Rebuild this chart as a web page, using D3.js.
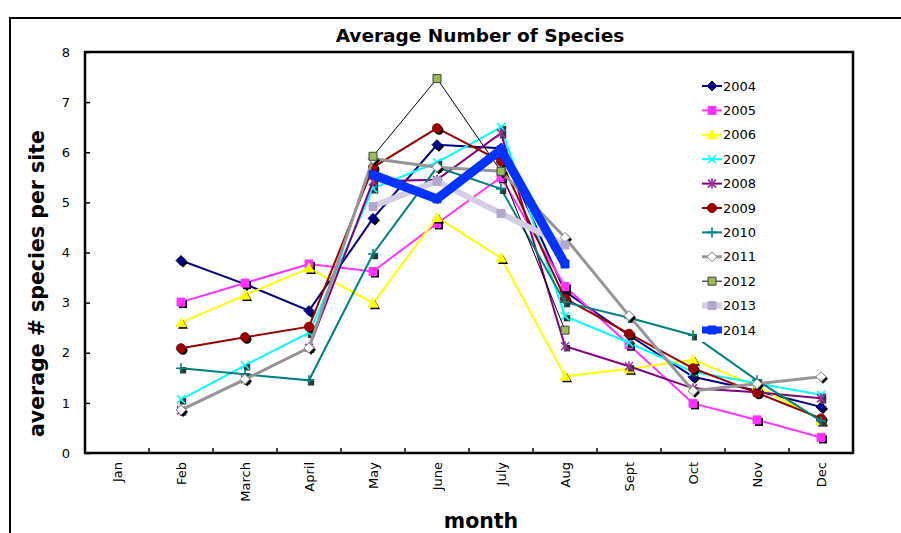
<!DOCTYPE html>
<html>
<head>
<meta charset="utf-8">
<script src="https://cdn.jsdelivr.net/npm/d3@7"></script>
<style>
  body { margin: 0; background: #fff; }
  svg { display: block; font-family: "DejaVu Sans", Verdana, sans-serif; }
</style>
</head>
<body>
<svg id="chart" width="901" height="533"></svg>
<script>
// Data (null = no sample that month)
const months = ["Jan", "Feb", "March", "April", "May", "June", "July", "Aug", "Sept", "Oct", "Nov", "Dec"];
const years = ["2004", "2005", "2006", "2007", "2008", "2009", "2010", "2011", "2012", "2013", "2014"];
const yTicks = [0, 1, 2, 3, 4, 5, 6, 7, 8];

const v2004 = [null, 3.84, 3.37, 2.84, 4.68, 6.15, 6.08, 3.22, 2.35, 1.52, 1.24, 0.92];
const v2005 = [null, 3.01, 3.39, 3.77, 3.62, 4.58, 5.50, 3.32, 2.16, 0.99, 0.66, 0.31];
const v2006 = [null, 2.60, 3.15, 3.69, 2.99, 4.70, 3.89, 1.53, 1.68, 1.86, 1.33, 0.65];
const v2007 = [null, 1.07, 1.75, 2.40, 5.28, 5.80, 6.50, 2.73, 2.20, 1.62, 1.39, 1.16];
const v2008 = [null, 0.85, 1.47, 2.10, 5.42, 5.45, 6.38, 2.13, 1.73, 1.29, 1.21, 1.09];
const v2009 = [null, 2.09, 2.31, 2.52, 5.70, 6.48, 5.82, 3.08, 2.38, 1.69, 1.20, 0.69];
const v2010 = [null, 1.69, 1.57, 1.45, 3.97, 5.70, 5.27, 3.01, 2.70, 2.35, 1.45, 0.64];
const v2011 = [null, 0.86, 1.47, 2.10, 5.87, 5.70, 5.62, 4.30, 2.74, 1.24, 1.38, 1.52];
const v2012 = [null, null, null, null, 5.92, 7.47, 5.62, 2.45, null, null, null, null];
const v2013 = [null, null, null, null, 4.92, 5.42, 4.78, 4.15, null, null, null, null];
const v2014 = [null, null, null, null, 5.55, 5.07, 6.05, 3.77, null, null, null, null];
const seriesValues = [v2004, v2005, v2006, v2007, v2008, v2009, v2010, v2011, v2012, v2013, v2014];

// Series styles
const lineColors = ["#000080", "#ff33ff", "#ffff00", "#00ffff", "#800080", "#990000", "#008080", "#969696", "#000000", "#d4cde3", "#0033ff"];
const markerFills = ["#000080", "#ff33ff", "#ffff00", "#00ffff", "#993399", "#990000", "#008080", "#ffffff", "#9bbb59", "#b3a8cc", "#0033ff"];
const markerStrokes = ["#000080", "#ff33ff", "#ffff00", "#00ffff", "#993399", "#990000", "#008080", "#808080", "#404040", "#b3a8cc", "#0033ff"];
const lineWidths = [2, 2, 2, 2, 2, 2, 2, 3, 1, 6, 9];
const shapes = ["diamond", "square", "triangle", "x", "star", "circle", "plus", "diamond", "square", "square", "square"];
const shadowed = [true, true, true, true, true, true, true, true, false, false, false];

const svg = d3.select("#chart");
const margin = { top: 52, right: 48, bottom: 80, left: 85 };
const W = 901, H = 533;

// Outer chart frame
svg.append("rect")
    .attr("x", 10).attr("y", 18)
    .attr("width", 920).attr("height", 540)
    .attr("fill", "#fff").attr("stroke", "#000").attr("stroke-width", 2);

const x = d3.scaleBand()
    .domain(months)
    .range([margin.left, W - margin.right]);

const y = d3.scaleLinear()
    .domain([0, 8])
    .range([H - margin.bottom, margin.top]);

// Y axis (inward ticks)
const yAxisG = svg.append("g")
    .attr("transform", `translate(${margin.left},0)`)
    .call(d3.axisLeft(y).tickValues(yTicks).tickSize(-5).tickPadding(15));
yAxisG.select(".domain").remove();
yAxisG.selectAll("line").attr("stroke", "#000").attr("stroke-width", 1.5);
yAxisG.selectAll("text").attr("font-size", "13px").attr("fill", "#000")
    .attr("font-family", "'DejaVu Sans', Verdana, sans-serif");

// X tick marks between categories, pointing inward
svg.append("g")
    .selectAll("line")
    .data(months.slice(1))
    .join("line")
    .attr("x1", d => x(d)).attr("x2", d => x(d))
    .attr("y1", y(0)).attr("y2", y(0) - 5)
    .attr("stroke", "#000").attr("stroke-width", 1.5);

// X labels, rotated
svg.append("g")
    .selectAll("text")
    .data(months)
    .join("text")
    .attr("transform", d => `translate(${x(d) + x.bandwidth() / 2},${y(0) + 9})rotate(-90)`)
    .attr("text-anchor", "end")
    .attr("dy", "0.35em")
    .attr("font-size", "13px")
    .text(d => d);

// Series lines and markers
function markerPath(shape) {
    switch (shape) {
        case "diamond": return "M0,-5L5,0L0,5L-5,0Z";
        case "square": return "M-4,-4H4V4H-4Z";
        case "triangle": return "M0,-5L5,4H-5Z";
        case "circle": return d3.symbol(d3.symbolCircle, 64)();
        case "x": return "M-4,-4L4,4M-4,4L4,-4";
        case "star": return "M-4,-4L4,4M-4,4L4,-4M0,-5V5";
        case "plus": return "M-5,0H5M0,-5V5";
    }
}
const lineShape = d3.line()
    .defined(d => d.v !== null)
    .x(d => x(d.m) + x.bandwidth() / 2)
    .y(d => y(d.v));

const plotG = svg.append("g");
seriesValues.forEach((vals, i) => {
    const pts = vals.map((v, j) => ({ m: months[j], v }));
    const g = plotG.append("g");
    g.append("path")
        .datum(pts)
        .attr("fill", "none")
        .attr("stroke", lineColors[i])
        .attr("stroke-width", lineWidths[i])
        .attr("stroke-linejoin", "miter")
        .attr("d", lineShape);

    const valid = pts.filter(d => d.v !== null);
    const open = shapes[i] === "x" || shapes[i] === "star" || shapes[i] === "plus";
    if (shadowed[i]) {
        g.selectAll(".shadow")
            .data(valid)
            .join("path")
            .attr("class", "shadow")
            .attr("d", open ? markerPath("square") : markerPath(shapes[i]))
            .attr("transform", d => `translate(${x(d.m) + x.bandwidth() / 2 + 2},${y(d.v) + 2})` + (open ? "scale(0.8)" : ""))
            .attr("fill", open ? "#333" : "#000");
    }
    g.selectAll(".marker")
        .data(valid)
        .join("path")
        .attr("class", "marker")
        .attr("transform", d => `translate(${x(d.m) + x.bandwidth() / 2},${y(d.v)})`)
        .attr("d", markerPath(shapes[i]))
        .attr("fill", open ? "none" : markerFills[i])
        .attr("stroke", markerStrokes[i])
        .attr("stroke-width", open ? 1.6 : 1);
});

// Plot area border
svg.append("rect")
    .attr("x", margin.left).attr("y", margin.top)
    .attr("width", W - margin.left - margin.right)
    .attr("height", H - margin.top - margin.bottom)
    .attr("fill", "none").attr("stroke", "#000").attr("stroke-width", 2.5);

// Legend
const legend = svg.append("g");
legend.append("rect")
    .attr("x", 697).attr("y", 72)
    .attr("width", 78).attr("height", 270)
    .attr("fill", "#fff");
const ly = d3.scalePoint().domain(years).range([86, 330]);
years.forEach((yr, i) => {
    const cy = ly(yr);
    legend.append("line")
        .attr("x1", 702).attr("x2", 722)
        .attr("y1", cy).attr("y2", cy)
        .attr("stroke", lineColors[i])
        .attr("stroke-width", Math.min(lineWidths[i], 7));
    const open = shapes[i] === "x" || shapes[i] === "star" || shapes[i] === "plus";
    legend.append("path")
        .attr("transform", `translate(712,${cy})`)
        .attr("d", markerPath(shapes[i]))
        .attr("fill", open ? "none" : markerFills[i])
        .attr("stroke", markerStrokes[i])
        .attr("stroke-width", open ? 1.6 : 1);
    legend.append("text")
        .attr("x", 723).attr("y", cy)
        .attr("dy", "0.36em")
        .attr("font-size", "13px")
        .text(yr);
});

// Titles
svg.append("text")
    .attr("x", 480).attr("y", 42)
    .attr("text-anchor", "middle")
    .attr("font-size", "18.5px").attr("font-weight", "bold")
    .text("Average Number of Species");

svg.append("text")
    .attr("transform", `translate(44,${(y(0) + y(8)) / 2 + 31})rotate(-90)`)
    .attr("text-anchor", "middle")
    .attr("font-size", "20.5px").attr("font-weight", "bold")
    .text("average # species per site");

svg.append("text")
    .attr("x", 481).attr("y", 528)
    .attr("text-anchor", "middle")
    .attr("font-size", "20.5px").attr("font-weight", "bold")
    .text("month");
</script>
</body>
</html>
